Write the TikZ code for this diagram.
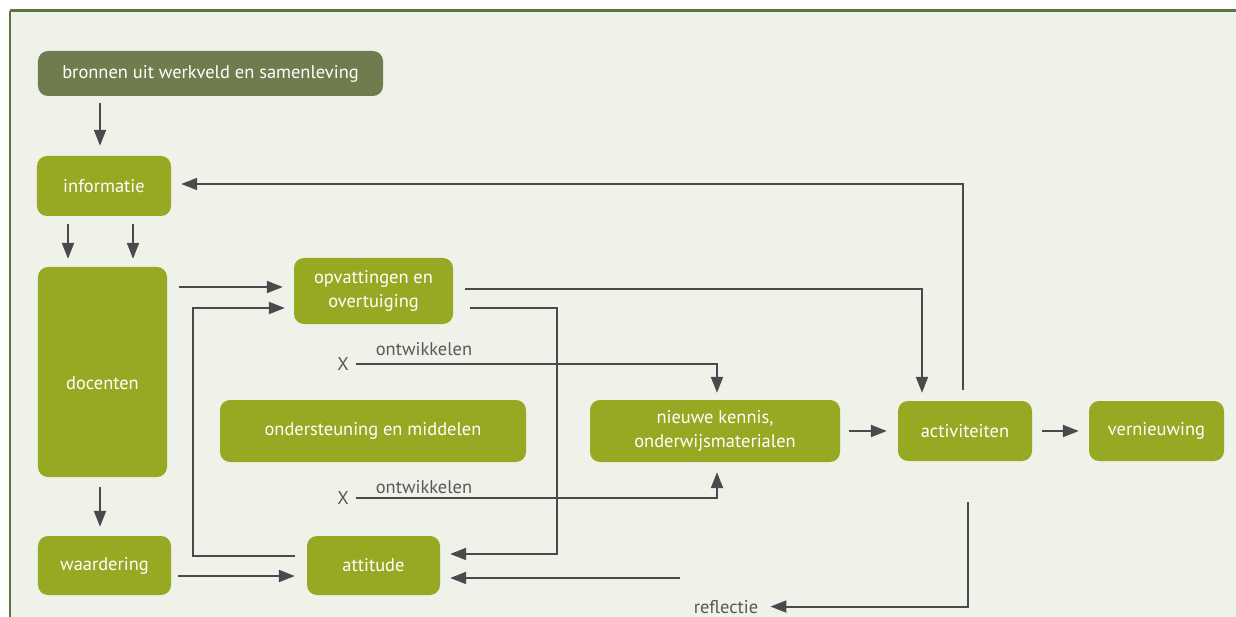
\documentclass[tikz,border=0pt]{standalone}
\usepackage{fontspec}
\setmainfont{PT Sans}
\usepackage{xcolor}
\usetikzlibrary{arrows.meta,positioning}

\definecolor{framegreen}{HTML}{5E7343}
\definecolor{panel}{HTML}{EFF2E8}
\definecolor{darkbox}{HTML}{6F7D4E}
\definecolor{limebox}{HTML}{97A823}
\definecolor{arrowgrey}{HTML}{4A4A4C}
\definecolor{labelgrey}{HTML}{58585A}

\begin{document}
\begin{tikzpicture}[x=1bp, y=-1bp,
		box/.style={fill=limebox, rounded corners=10bp, text=white, align=center, inner sep=0pt, font=\fontsize{18.5}{24}\selectfont},
		srcbox/.style={box, fill=darkbox},
		lbl/.style={text=labelgrey, inner sep=0pt, font=\fontsize{18.5}{22}\selectfont},
		arr/.style={draw=arrowgrey, line width=2bp, -{Triangle[length=16bp,width=12bp]}}]
			%\draw[help lines] (0,0) grid[step=50] (1236,617);
			\useasboundingbox (0,0) rectangle (1236,617);
			\fill[panel] (10,11) rectangle (1236,617);
			\draw[framegreen, line width=3bp] (10,11) -- (1236,11);
			\draw[framegreen, line width=2bp] (10,11) -- (10,617);

			\node[srcbox, minimum width=345bp, minimum height=45bp] (bronnen) at (210.5,73.5) {bronnen uit werkveld en samenleving};
			\node[box, minimum width=134bp, minimum height=60bp] (informatie) at (104,186) {informatie};
			\node[box, minimum width=129bp, minimum height=210bp, text height=34bp, text depth=0bp] (docenten) at (102.5,372) {docenten};
			\node[box, minimum width=133bp, minimum height=59bp] (waardering) at (104.5,565.5) {waardering};
			\node[box, minimum width=159bp, minimum height=66bp] (opvattingen) at (373.5,291) {opvattingen en\\overtuiging};
			\node[box, minimum width=306bp, minimum height=62bp] (ondersteuning) at (373,431) {ondersteuning en middelen};
			\node[box, minimum width=133bp, minimum height=59bp] (attitude) at (373.5,565.5) {attitude};
			\node[box, minimum width=250bp, minimum height=62bp] (nieuwe) at (715,431) {nieuwe kennis,\\onderwijsmaterialen};
			\node[box, minimum width=134bp, minimum height=60bp] (activiteiten) at (965,431) {activiteiten};
			\node[box, minimum width=135bp, minimum height=60bp] (vernieuwing) at (1156.5,431) {vernieuwing};

			\node[lbl] (xtop) at (343,364) {X};
			\node[lbl] (xbot) at (343,498) {X};
			\node[lbl, anchor=base] (ontwtop) at (424,356) {ontwikkelen};
			\node[lbl, anchor=base] (ontwbot) at (424,493) {ontwikkelen};
			\node[lbl, anchor=base] (reflectie) at (726,613) {reflectie};

			\coordinate (i1) at ([xshift=-36bp]informatie.south);
			\coordinate (i2) at ([xshift=29bp]informatie.south);
			\coordinate (b1) at ([xshift=-4bp]informatie.north);
			\coordinate (d1) at ([xshift=-2.5bp]docenten.south);
			\coordinate (o1) at ([yshift=4bp]opvattingen.west);
			\coordinate (a1) at ([yshift=-10.5bp]attitude.west);
			\coordinate (loopL) at (193,430);
			\coordinate (loopR) at (557,430);
			\coordinate (fback) at (680,578);

			\draw[arr, shorten <=7bp, shorten >=10bp] (b1 |- bronnen.south) -- (b1);
			\draw[arr, shorten <=8bp, shorten >=8bp] (i1) -- (i1 |- docenten.north);
			\draw[arr, shorten <=8bp, shorten >=8bp] (i2) -- (i2 |- docenten.north);
			\draw[arr, shorten <=10bp, shorten >=9bp] (d1) -- (d1 |- waardering.north);
			\draw[arr, shorten <=12bp, shorten >=11bp] (o1 -| docenten.east) -- (o1);
			\draw[arr, shorten <=7bp, shorten >=12bp] (a1 -| waardering.east) -- (a1);
			\draw[arr, shorten <=12bp, shorten >=9bp] ([yshift=9.5bp]attitude.west) -| (loopL) |- ([yshift=-17bp]opvattingen.west);
			\draw[arr, shorten <=17bp, shorten >=10bp] ([yshift=-17bp]opvattingen.east) -| (loopR) |- ([yshift=11.5bp]attitude.east);
			\draw[arr, shorten <=12bp, shorten >=8bp] ([yshift=2bp]opvattingen.east) -| ([xshift=-43bp]activiteiten.north);
			\draw[arr, shorten <=7bp, shorten >=7bp] (xtop.east) -| ([xshift=2bp]nieuwe.north);
			\draw[arr, shorten <=7bp, shorten >=10bp] (xbot.east) -| ([xshift=2bp]nieuwe.south);
			\draw[arr, shorten <=9bp, shorten >=11bp] (nieuwe.east) -- (activiteiten.west);
			\draw[arr, shorten <=10bp, shorten >=10bp] (activiteiten.east) -- (vernieuwing.west);
			\draw[arr, shorten <=11bp, shorten >=10bp] ([xshift=-2bp]activiteiten.north) |- ([yshift=2bp]informatie.east);
			\draw[arr, shorten >=10bp] (fback) -- (fback -| attitude.east);
			\draw[arr, shorten <=41bp, shorten >=12bp] ([xshift=3bp]activiteiten.south) |- (reflectie.east);
		\end{tikzpicture}
\end{document}
